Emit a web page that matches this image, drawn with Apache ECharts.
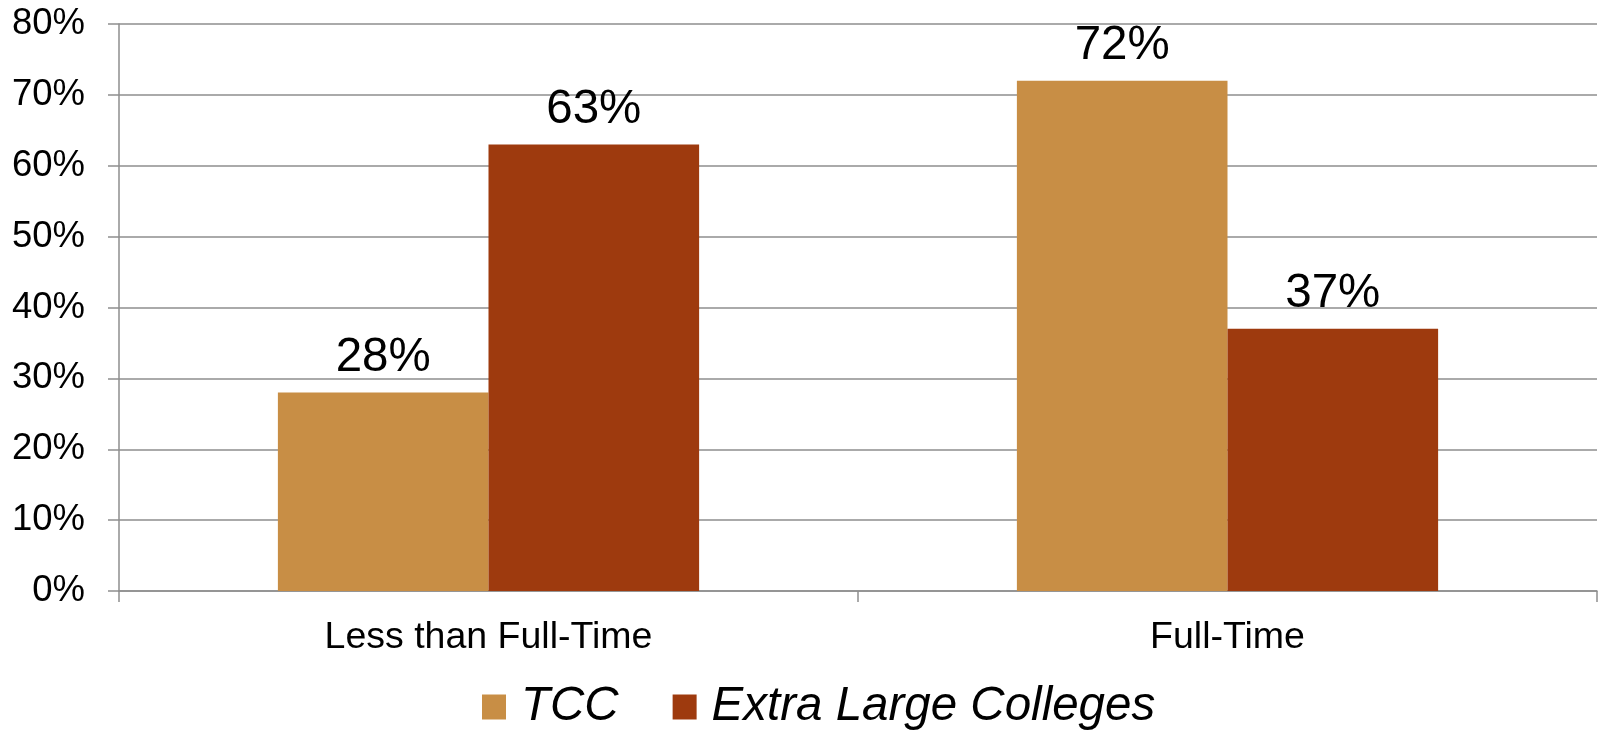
<!DOCTYPE html>
<html>
<head>
<meta charset="utf-8">
<script src="https://cdn.jsdelivr.net/npm/echarts@6/dist/echarts.min.js"></script>
<style>
  html, body { margin: 0; padding: 0; background: #ffffff; }
  #chart { width: 1599px; height: 733px; }
</style>
</head>
<body>
<div id="chart"></div>
<script>
// Enrollment status share: TCC vs. extra large colleges
const categories = ['Less than Full-Time', 'Full-Time'];
const tccValues = [28, 72];
const extraLargeValues = [63, 37];
const seriesNames = ['TCC', 'Extra Large Colleges'];
const yTicks = { min: 0, max: 80, interval: 10 };

const FONT = '"Liberation Sans", Arial, Helvetica, sans-serif';
const GRID_COLOR = '#8e8e8e';

const chart = echarts.init(document.getElementById('chart'), null, { renderer: 'canvas' });

const labelStyle = {
  show: true,
  position: 'top',
  distance: 11,
  color: '#000000',
  fontFamily: FONT,
  fontSize: 47.5,
  formatter: p => p.value + '%'
};

chart.setOption({
  animation: false,
  backgroundColor: '#ffffff',
  grid: { left: 119, right: 2, top: 24, bottom: 142, containLabel: false },
  legend: {
    left: 482,
    top: 683,
    padding: 0,
    itemWidth: 24,
    itemHeight: 25,
    itemGap: 54,
    icon: 'rect',
    data: seriesNames,
    textStyle: {
      fontFamily: FONT,
      fontSize: 47.5,
      fontStyle: 'italic',
      color: '#000000',
      padding: [0, 0, 0, 10]
    }
  },
  xAxis: {
    type: 'category',
    data: categories,
    axisLine: { show: true, lineStyle: { color: GRID_COLOR, width: 1.5 } },
    axisTick: { show: true, length: 11, alignWithLabel: false, lineStyle: { color: GRID_COLOR, width: 1.5 } },
    axisLabel: { fontFamily: FONT, fontSize: 37.5, color: '#000000', margin: 28 },
    splitLine: { show: false }
  },
  yAxis: {
    type: 'value',
    min: yTicks.min,
    max: yTicks.max,
    interval: yTicks.interval,
    axisLine: { show: true, lineStyle: { color: GRID_COLOR, width: 1.5 } },
    axisTick: { show: true, length: 11, lineStyle: { color: GRID_COLOR, width: 1.5 } },
    axisLabel: { fontFamily: FONT, fontSize: 36.5, color: '#000000', margin: 34, formatter: v => v + '%' },
    splitLine: { show: true, lineStyle: { color: GRID_COLOR, width: 1.5 } }
  },
  series: [
    {
      name: seriesNames[0],
      type: 'bar',
      data: tccValues,
      barGap: '0%',
      barCategoryGap: '43%',
      itemStyle: { color: '#c88e45' },
      label: labelStyle
    },
    {
      name: seriesNames[1],
      type: 'bar',
      data: extraLargeValues,
      barGap: '0%',
      barCategoryGap: '43%',
      itemStyle: { color: '#9e3a0e' },
      label: labelStyle
    }
  ]
});
</script>
</body>
</html>
